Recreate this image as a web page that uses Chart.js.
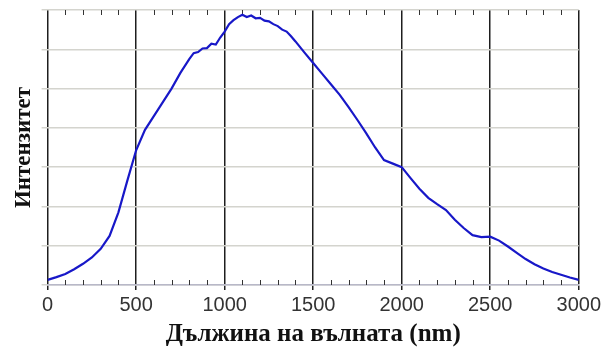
<!DOCTYPE html>
<html>
<head>
<meta charset="utf-8">
<script src="https://cdn.jsdelivr.net/npm/chart.js@4/dist/chart.umd.min.js"></script>
<style>
  html, body { margin: 0; padding: 0; background: #fff; }
  #wrap { width: 604px; height: 351px; position: relative; }
</style>
</head>
<body>
<div id="wrap"><canvas id="spectrumChart"></canvas></div>
<script>
// Дължина на вълната (nm) и интензитет (отчетени от графиката)
var wavelengths = [0, 50, 100, 150, 200, 250, 300, 350, 400, 450, 500, 550, 600, 650, 700, 750,
    800, 825, 850, 875, 900, 925, 950, 975, 1000, 1025, 1050, 1075, 1100, 1125, 1150, 1175, 1200,
    1225, 1250, 1275, 1300, 1325, 1350, 1375, 1400, 1450, 1500, 1550, 1600, 1650, 1700, 1750, 1800,
    1850, 1900, 1950, 2000, 2050, 2100, 2150, 2200, 2250, 2300, 2350, 2400, 2450, 2500, 2550, 2600,
    2650, 2700, 2750, 2800, 2850, 2900, 2950, 3000];
var intensity = [0.13, 0.2, 0.28, 0.4, 0.54, 0.7, 0.92, 1.25, 1.85, 2.65, 3.43, 3.95, 4.3, 4.65, 5.0, 5.4,
    5.75, 5.9, 5.93, 6.02, 6.03, 6.14, 6.12, 6.3, 6.45, 6.64, 6.74, 6.82, 6.88, 6.82, 6.86, 6.79, 6.8,
    6.73, 6.71, 6.64, 6.59, 6.5, 6.45, 6.33, 6.2, 5.92, 5.65, 5.38, 5.11, 4.84, 4.53, 4.2, 3.86,
    3.5, 3.18, 3.09, 3.0, 2.72, 2.45, 2.22, 2.06, 1.91, 1.66, 1.45, 1.27, 1.22, 1.23, 1.13, 0.98,
    0.82, 0.66, 0.53, 0.42, 0.33, 0.26, 0.19, 0.13];
var xTicks = [0, 500, 1000, 1500, 2000, 2500, 3000];
var minorStep = 100;

var points = wavelengths.map(function(w, i) {
    return { x: w, y: intensity[i] };
});

// малки чертички на всеки 100 nm (горе и долу)
var minorTicks = {
    id: 'minorTicks',
    beforeDatasetsDraw: function(chart) {
        var xs = chart.scales.x, area = chart.chartArea, c = chart.ctx;
        c.save();
        c.strokeStyle = '#333';
        c.lineWidth = 1;
        for (var v = xs.min; v <= xs.max; v += minorStep) {
            if (v % 500 === 0) continue;
            var px = Math.round(xs.getPixelForValue(v)) + 0.5;
            c.beginPath();
            c.moveTo(px, area.top);
            c.lineTo(px, area.top + 5);
            c.moveTo(px, area.bottom);
            c.lineTo(px, area.bottom - 5);
            c.stroke();
        }
        c.restore();
    }
};

var ctx = document.getElementById('spectrumChart');
var chart = new Chart(ctx.getContext('2d'), {
    type: 'line',
    data: {
        datasets: [{
            label: 'Интензитет',
            data: points,
            borderColor: '#1818c8',
            borderWidth: 2.2,
            pointRadius: 0,
            tension: 0,
            fill: false
        }]
    },
    options: {
        responsive: true,
        maintainAspectRatio: false,
        animation: false,
        layout: {
            padding: { left: 0, right: 2, top: 10, bottom: 0 }
        },
        scales: {
            x: {
                type: 'linear',
                min: 0,
                max: 3000,
                afterBuildTicks: function(scale) {
                    scale.ticks = xTicks.map(function(v) { return { value: v }; });
                },
                grid: {
                    color: '#1e1e1e',
                    lineWidth: 1.5,
                    tickLength: 5
                },
                border: { color: '#b8b8c8', width: 1.5 },
                ticks: {
                    color: '#333',
                    padding: 3,
                    maxRotation: 0,
                    font: { family: 'Liberation Sans', size: 20 },
                    callback: function(value) { return String(value); }
                },
                title: {
                    display: true,
                    text: 'Дължина на вълната (nm)',
                    color: '#111',
                    padding: { top: 0, bottom: 1 },
                    font: { family: 'Liberation Serif', size: 25, weight: 'bold' }
                }
            },
            y: {
                min: 0,
                max: 7,
                ticks: { display: false, stepSize: 1 },
                grid: {
                    color: '#d4d4ce',
                    lineWidth: 1.5,
                    tickLength: 6
                },
                border: { display: false },
                title: {
                    display: true,
                    text: 'Интензитет',
                    color: '#111',
                    padding: { top: 10, bottom: 4 },
                    font: { family: 'Liberation Serif', size: 23, weight: 'bold' }
                }
            }
        },
        plugins: {
            legend: { display: false },
            tooltip: { enabled: false }
        }
    },
    plugins: [minorTicks]
});
</script>
</body>
</html>
